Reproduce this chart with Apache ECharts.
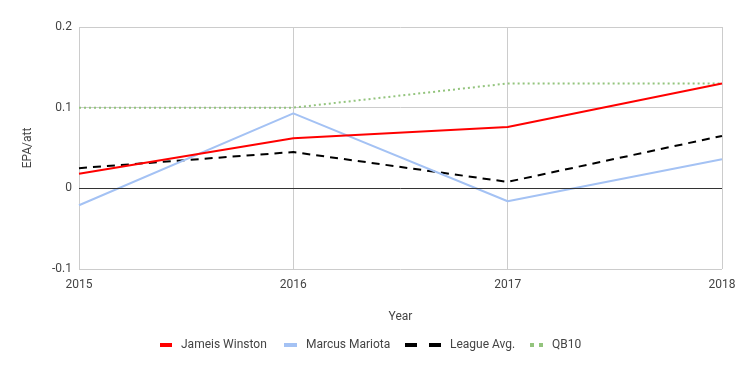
<!DOCTYPE html>
<html><head><meta charset="utf-8">
<script src="https://cdn.jsdelivr.net/npm/echarts@6/dist/echarts.min.js"></script>
<style>html,body{margin:0;padding:0;background:#fff}#c{width:741px;height:371px}</style>
</head><body><div id="c"></div>
<script>
const years = ['2015', '2016', '2017', '2018'];
const winston = [0.018, 0.062, 0.076, 0.130];
const mariota = [-0.021, 0.093, -0.016, 0.036];
const leagueAvg = [0.025, 0.045, 0.008, 0.065];
const qb10 = [0.100, 0.100, 0.130, 0.130];
const names = ['Jameis Winston', 'Marcus Mariota', 'League Avg.', 'QB10'];

const font = 'Roboto';
const txt = {color: '#444', fontFamily: font, fontSize: 12};
function lg(name, left, w, h, icon) {
  return {data: [{name: name, icon: icon}], left: left, top: 334, itemWidth: w, itemHeight: h,
          textStyle: Object.assign({padding: [0, 0, 0, 4]}, txt), selectedMode: false};
}
const chart = echarts.init(document.getElementById('c'), null, {renderer: 'canvas'});
chart.setOption({
  animation: false,
  textStyle: {fontFamily: font},
  grid: {left: 79, right: 19, top: 27, bottom: 102, containLabel: false},
  legend: [
    lg(names[0], 155, 12, 4, 'rect'),
    lg(names[1], 279, 13, 4, 'rect'),
    lg(names[2], 400, 36, 4, 'path://M0,0h12v4h-12z M24,0h12v4h-12z'),
    lg(names[3], 525, 13, 4, 'path://M0,0h4v4h-4z M9,0h4v4h-4z')
  ],
  xAxis: {
    type: 'category', data: years, boundaryGap: false,
    name: 'Year', nameLocation: 'middle', nameGap: 42, nameTextStyle: txt,
    axisLine: {show: false}, axisTick: {show: false},
    axisLabel: Object.assign({margin: 10}, txt),
    splitLine: {show: true, lineStyle: {color: '#cccccc', width: 1}}
  },
  yAxis: {
    type: 'value', min: -0.1, max: 0.2, interval: 0.1,
    name: 'EPA/att', nameLocation: 'middle', nameGap: 45, nameTextStyle: txt,
    axisLine: {show: false}, axisTick: {show: false},
    axisLabel: Object.assign({margin: 7, formatter: v => String(Math.round(v * 10) / 10)}, txt),
    splitLine: {show: true, lineStyle: {color: '#cccccc', width: 1}}
  },
  series: [
    {name: names[0], type: 'line', data: winston, symbol: 'none', z: 5,
     lineStyle: {color: '#ff0000', width: 2}, itemStyle: {color: '#ff0000'},
     markLine: {silent: true, symbol: 'none', label: {show: false}, animation: false,
       lineStyle: {color: '#333333', width: 1, type: 'solid'}, data: [{yAxis: 0}]}},
    {name: names[1], type: 'line', data: mariota, symbol: 'none', z: 4,
     lineStyle: {color: '#a4c2f4', width: 2}, itemStyle: {color: '#a4c2f4'}},
    {name: names[2], type: 'line', data: leagueAvg, symbol: 'none', z: 3,
     lineStyle: {color: '#000000', width: 2, type: [8, 6]}, itemStyle: {color: '#000000'}},
    {name: names[3], type: 'line', data: qb10, symbol: 'none', z: 2,
     lineStyle: {color: '#93c47d', width: 2, type: [2, 3]}, itemStyle: {color: '#93c47d'}}
  ]
});
</script></body></html>
